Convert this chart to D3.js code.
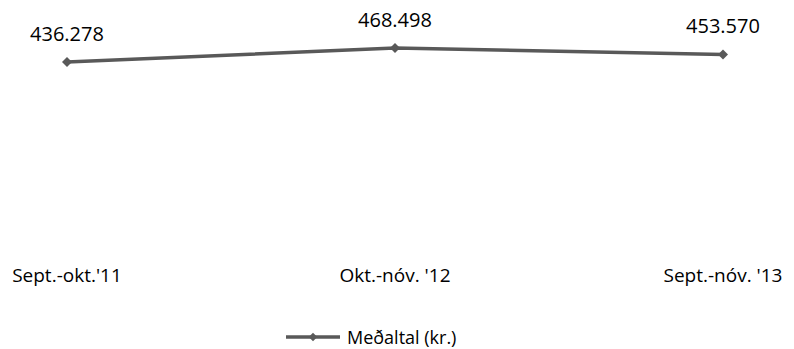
<!DOCTYPE html>
<html><head><meta charset="utf-8">
<script src="https://cdn.jsdelivr.net/npm/d3@7"></script>
<style>body{margin:0;background:#fff}svg{display:block}</style>
</head><body>
<svg id="c" width="794" height="349"></svg>
<script>
const categories = ["Sept.-okt.'11", "Okt.-nóv. '12", "Sept.-nóv. '13"];
const values = [436278, 468498, 453570];
const valueLabels = ["436.278", "468.498", "453.570"];
const seriesName = "Meðaltal (kr.)";

const svg = d3.select("#c");
const color = "#595959";
const x = d3.scalePoint().domain(categories).range([67, 723]);
const y = d3.scaleLinear().domain([0, 500000]).range([251.6, 34.3]);

svg.append("path")
  .datum(values)
  .attr("fill", "none").attr("stroke", color).attr("stroke-width", 3.5)
  .attr("d", d3.line().x((d, i) => x(categories[i])).y(d => y(d)));

const marker = d3.symbol().type(d3.symbolSquare).size(50);
svg.selectAll(".pt").data(values).join("path")
  .attr("transform", (d, i) => `translate(${x(categories[i])},${y(d)}) rotate(45)`)
  .attr("d", marker).attr("fill", color);

svg.selectAll(".lbl").data(values).join("text")
  .attr("x", (d, i) => x(categories[i]))
  .attr("y", d => y(d) - 21)
  .attr("text-anchor", "middle")
  .attr("font-family", "Open Sans").attr("font-size", 20).attr("fill", "#000")
  .text((d, i) => valueLabels[i]);

svg.selectAll(".cat").data(categories).join("text")
  .attr("x", d => x(d)).attr("y", 282)
  .attr("text-anchor", "middle")
  .attr("font-family", "Open Sans").attr("font-size", 19).attr("fill", "#000")
  .text(d => d);

const lg = svg.append("g");
lg.append("line").attr("x1", 286).attr("x2", 340).attr("y1", 337).attr("y2", 337)
  .attr("stroke", color).attr("stroke-width", 3.5);
lg.append("path").attr("transform", "translate(313,337) rotate(45)")
  .attr("d", d3.symbol().type(d3.symbolSquare).size(36)).attr("fill", color);
lg.append("text").attr("x", 347).attr("y", 344)
  .attr("font-family", "Open Sans").attr("font-size", 18).attr("fill", "#000")
  .text(seriesName);
</script>
</body></html>
